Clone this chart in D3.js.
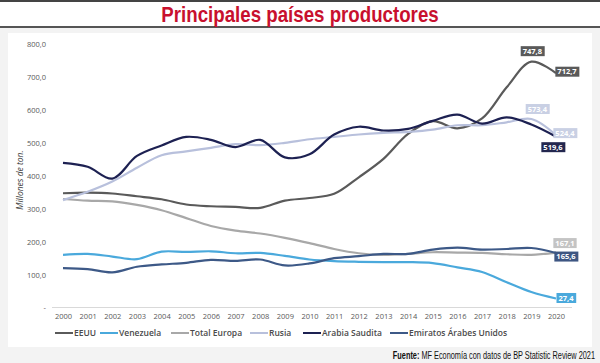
<!DOCTYPE html>
<html><head><meta charset="utf-8">
<script src="https://cdn.jsdelivr.net/npm/d3@7"></script>
<style>
html,body{margin:0;padding:0;background:#fff;}
svg{display:block;}
</style></head>
<body>
<svg id="chart" width="600" height="363"></svg>
<script>
const years = [2000,2001,2002,2003,2004,2005,2006,2007,2008,2009,2010,2011,2012,2013,2014,2015,2016,2017,2018,2019,2020];
const seriesNames = ["EEUU","Venezuela","Total Europa","Rusia","Arabia Saudita","Emiratos Árabes Unidos"];
const eeuu      = [347.6,349.2,346.8,338.4,329.2,313.3,308.0,306.0,303.0,325.0,333.1,345.7,396.0,452.0,528.0,567.0,545.0,575.0,669.8,747.8,712.7];
const venezuela = [160.0,163.0,155.0,147.0,170.0,169.0,171.0,165.0,166.0,157.0,146.0,141.0,139.0,138.0,138.0,135.0,122.0,108.0,77.0,47.0,27.4];
const europa    = [330.0,325.0,323.0,312.0,296.0,272.0,248.0,234.0,225.0,212.0,196.0,178.0,165.0,160.0,163.0,168.0,167.0,166.0,162.0,160.0,167.1];
const rusia     = [326.7,351.9,383.0,425.1,463.3,474.8,485.6,496.8,493.7,500.8,511.8,518.8,526.2,531.1,534.1,540.8,554.3,554.4,563.3,573.4,524.4];
const saudita   = [440.0,428.0,392.0,461.0,493.0,519.0,510.0,488.0,509.9,456.7,466.0,526.0,549.8,538.4,543.4,567.8,586.7,559.3,578.3,556.6,519.6];
const emiratos  = [120.0,117.0,107.0,124.0,131.0,136.0,145.0,142.0,146.0,128.0,134.0,150.0,156.0,163.0,163.0,176.0,182.0,176.0,178.0,181.0,165.6];
const yTicks = [0,100,200,300,400,500,600,700,800];
const colors = ["#5a5a5a","#4aa9dc","#a8a8a8","#b8c0dc","#1d2152","#3d5987"];
const labelFill = ["#5a5a5a","#4aa9dc","#c4c4c4","#c9d0e4","#23274f","#3e5682"];

const allValues = [eeuu,venezuela,europa,rusia,saudita,emiratos];
const pointLabels = [
  {s:0, i:19, v:747.8, dx:1,  dy:-10.5},
  {s:0, i:20, v:712.7, dx:11, dy:-1.5},
  {s:3, i:19, v:573.4, dx:6,  dy:-10},
  {s:3, i:20, v:524.4, dx:9,  dy:-2},
  {s:4, i:20, v:519.6, dx:-3, dy:10.5},
  {s:2, i:20, v:167.1, dx:9,  dy:-9.5},
  {s:5, i:20, v:165.6, dx:10, dy:3.5},
  {s:1, i:20, v:27.4,  dx:10, dy:-0.5}
];

const svg = d3.select("#chart");
svg.append("rect").attr("x",0).attr("y",28).attr("width",600).attr("height",335).attr("fill","#f3f3f3");
svg.append("rect").attr("x",8).attr("y",33).attr("width",584).attr("height",314).attr("fill","#ffffff");
svg.append("rect").attr("x",0).attr("y",0).attr("width",600).attr("height",2).attr("fill","#444");
svg.append("rect").attr("x",0).attr("y",26).attr("width",600).attr("height",2).attr("fill","#555");
svg.append("text").attr("transform","translate(300,22) scale(0.85,1)").attr("text-anchor","middle")
  .attr("font-family","'Liberation Sans',Arial,sans-serif").attr("font-weight","bold")
  .attr("font-size",22).attr("fill","#c8102e").text("Principales países productores");

const x = d3.scalePoint().domain(years).range([63,556]);
const y = d3.scaleLinear().domain([0,800]).range([307.5,44.5]);

const fmt = v => v===0 ? "-" : d3.format(".1f")(v).replace(".",",");
const yAxis = d3.axisLeft(y).tickValues(yTicks).tickFormat(fmt).tickSize(0).tickPadding(0);
const gy = svg.append("g").attr("transform","translate(46,0)").call(yAxis);
gy.select(".domain").remove();
gy.selectAll("text").attr("font-family","'Open Sans',sans-serif").attr("font-size",7.5).attr("fill","#595959");

svg.append("line").attr("x1",52).attr("x2",572).attr("y1",y(0)).attr("y2",y(0)).attr("stroke","#d9d9d9").attr("stroke-width",1);

const xAxis = d3.axisBottom(x).tickSize(0).tickPadding(0);
const gx = svg.append("g").attr("transform","translate(0,314)").call(xAxis);
gx.select(".domain").remove();
gx.selectAll("text").attr("font-family","'Open Sans',sans-serif").attr("font-size",7.5).attr("fill","#595959");

svg.append("text").attr("transform","translate(23,180) rotate(-90)").attr("text-anchor","middle")
  .attr("font-family","'Open Sans',sans-serif").attr("font-style","italic").attr("font-size",8.5).attr("fill","#404040")
  .text("Millones de ton.");

const line = d3.line().x((d,i)=>x(years[i])).y(d=>y(d)).curve(d3.curveCatmullRom.alpha(0.5));
const drawOrder = [2,1,5,0,3,4];
drawOrder.forEach(s=>{
  svg.append("path").attr("d",line(allValues[s])).attr("fill","none").attr("stroke",colors[s]).attr("stroke-width",2.2);
});

pointLabels.forEach(p=>{
  const cx = x(years[p.i]) + p.dx, cy = y(allValues[p.s][p.i]) + p.dy;
  const txt = d3.format(".1f")(p.v).replace(".",",");
  const g = svg.append("g");
  const t = g.append("text").attr("x",cx).attr("y",cy+2.7).attr("text-anchor","middle")
    .attr("font-family","'Open Sans',sans-serif").attr("font-weight","bold").attr("font-size",7.5).attr("fill","#fff").text(txt);
  const bb = t.node().getBBox();
  g.insert("rect","text").attr("x",bb.x-2).attr("y",cy-5).attr("width",bb.width+4).attr("height",10).attr("fill",labelFill[p.s]);
});

const legendX = [55,100,171,250,303,390];
seriesNames.forEach((n,s)=>{
  const lx = legendX[s];
  svg.append("line").attr("x1",lx).attr("x2",lx+18).attr("y1",333).attr("y2",333).attr("stroke",colors[s]).attr("stroke-width",2);
  svg.append("text").attr("x",lx+19).attr("y",336).attr("font-family","'Open Sans',sans-serif").attr("font-size",8.5)
    .attr("font-weight","600").attr("fill","#4a4a4a").text(n);
});

const src = svg.append("text").attr("transform","translate(595,359) scale(0.7,1)").attr("text-anchor","end")
  .attr("font-family","'Liberation Sans',Arial,sans-serif").attr("font-size",10.5).attr("fill","#111");
src.append("tspan").attr("font-weight","bold").text("Fuente: ");
src.append("tspan").text("MF Economía con datos de BP Statistic Review 2021");
</script>
</body></html>
